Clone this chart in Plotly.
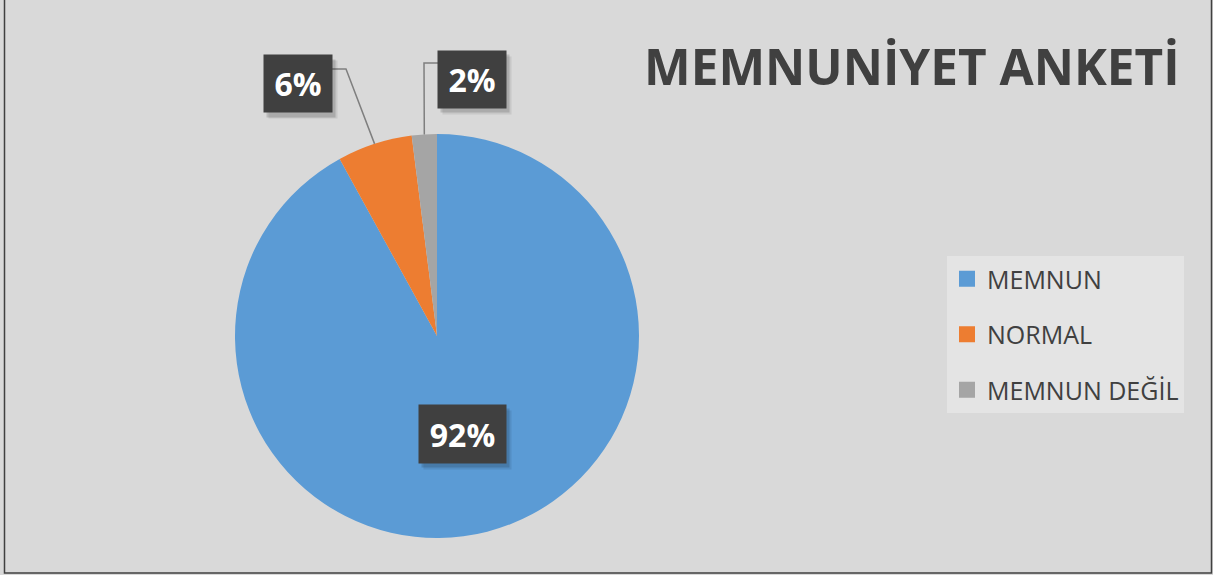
import math
import plotly.graph_objects as go

# ---- data ----
labels = ["MEMNUN", "NORMAL", "MEMNUN DEĞİL"]
values = [92, 6, 2]
colors = ["#5B9BD5", "#ED7D31", "#A5A5A5"]
title_text = "MEMNUNİYET ANKETİ"

# ---- layout constants (pixels) ----
W, H = 1213, 575
CX, CY, R = 437, 336, 202
BG = "#d9d9d9"
DARK = "#404040"
FONT = "Open Sans"

def px(x):
    return x / W

def py(y):
    return 1 - y / H

total = sum(values)
pcts = [round(v / total * 100) for v in values]

# mid angles (clockwise from 12 o'clock), computed from the data
mids = []
acc = 0
for v in values:
    mids.append((acc + v / 2) / total * 2 * math.pi)
    acc += v

def polar(theta, r):
    return CX + r * math.sin(theta), CY - r * math.cos(theta)

fig = go.Figure()
fig.add_trace(go.Pie(
    labels=labels, values=values, sort=False, direction="clockwise", rotation=0,
    marker=dict(colors=colors, line=dict(width=0)),
    textinfo="none", hoverinfo="label+percent", showlegend=False,
    domain=dict(x=[px(CX - R), px(CX + R)], y=[py(CY + R), py(CY - R)]),
))
for lab, col in zip(labels, colors):
    fig.add_trace(go.Scatter(
        x=[None], y=[None], mode="markers", name=lab, legendgroup=lab,
        marker=dict(symbol="square", size=16, color=col), hoverinfo="skip",
    ))

shapes = [dict(type="rect", xref="paper", yref="paper",
               x0=px(4.5), x1=px(1211.5), y0=py(573), y1=py(-2),
               fillcolor=BG, line=dict(color=DARK, width=1.5), layer="below")]
annotations = []

def box(cx, cy, w, h, text):
    # soft shadow (two layers)
    for off, a in ((5, 0.08), (3, 0.14)):
        annotations.append(dict(xref="paper", yref="paper", x=px(cx + off), y=py(cy + off + 1),
                                text="", showarrow=False, width=w, height=h, borderpad=1,
                                bgcolor="rgba(0,0,0,%s)" % a, xanchor="center", yanchor="middle"))
    annotations.append(dict(xref="paper", yref="paper", x=px(cx), y=py(cy),
                            text="<b>%s</b>" % text, showarrow=False, width=w, height=h,
                            borderpad=1, bgcolor=DARK, xanchor="center", yanchor="middle",
                            font=dict(family=FONT, size=32, color="white")))

def leader(points):
    path = "M " + " L ".join("%f,%f" % (px(x), py(y)) for x, y in points)
    shapes.append(dict(type="path", xref="paper", yref="paper", path=path,
                       line=dict(color="#7f7f7f", width=1.5)))

# 92% inside label
ix, iy = polar(mids[0], R * 0.5)
box(ix, iy, 85, 56, "%d%%" % pcts[0])

# 6% outside label
ex, ey = polar(mids[1], R)
leader([(ex, ey), (346, 69), (332, 69)])
box(298, 84, 66, 55, "%d%%" % pcts[1])

# 2% outside label
ex, ey = polar(mids[2], R)
leader([(ex, ey), (424, 63), (438, 63)])
box(472, 79, 66, 55, "%d%%" % pcts[2])

# title
annotations.append(dict(xref="paper", yref="paper", x=px(1182), y=py(66),
                        xanchor="right", yanchor="middle", showarrow=False,
                        text="<b>%s</b>" % title_text,
                        font=dict(family=FONT, size=49.5, color=DARK)))

fig.update_layout(
    width=W, height=H,
    margin=dict(l=0, r=0, t=0, b=0),
    paper_bgcolor="#cfcfcf", plot_bgcolor=BG,
    xaxis=dict(visible=False), yaxis=dict(visible=False),
    shapes=shapes, annotations=annotations,
    legend=dict(x=px(947), y=py(256), xanchor="left", yanchor="top",
                bgcolor="#e4e4e4", borderwidth=0, tracegroupgap=20,
                font=dict(family=FONT, size=25, color=DARK)),
    font=dict(family=FONT),
)
fig.write_html("out.html", config={"displayModeBar": False},
               post_script="document.body.style.margin='0';document.body.style.overflow='hidden';")
